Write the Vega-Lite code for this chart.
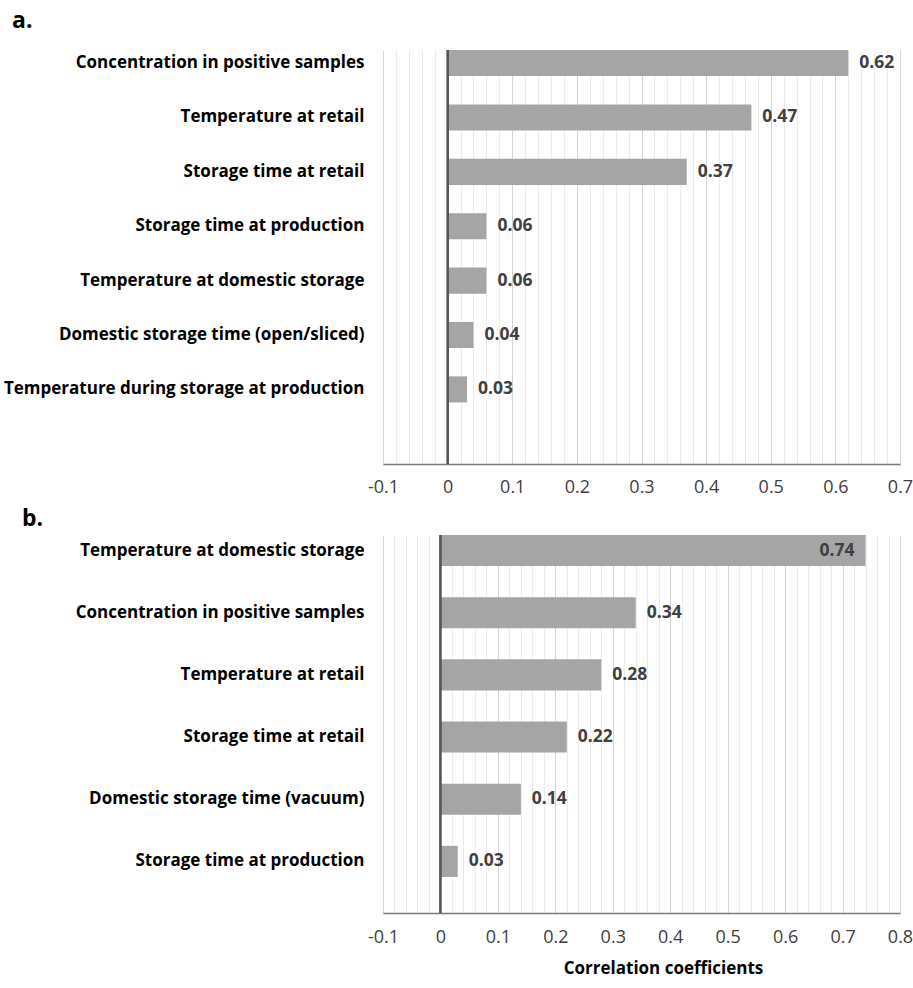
{
  "$schema": "https://vega.github.io/schema/vega-lite/v6.json",
  "padding": {"left": 3, "top": 10, "right": 4, "bottom": 0},
  "background": "white",
  "spacing": 12,
  "config": {
    "view": {"stroke": null},
    "font": "Open Sans",
    "axis": {"labelFont": "Open Sans", "titleFont": "Open Sans"}
  },
  "datasets": {
    "a": [
      {"factor": "Concentration in positive samples", "r": 0.62},
      {"factor": "Temperature at retail", "r": 0.47},
      {"factor": "Storage time at retail", "r": 0.37},
      {"factor": "Storage time at production", "r": 0.06},
      {"factor": "Temperature at domestic storage", "r": 0.06},
      {"factor": "Domestic storage time (open/sliced)", "r": 0.04},
      {"factor": "Temperature during storage at production", "r": 0.03}
    ],
    "b": [
      {"factor": "Temperature at domestic storage", "r": 0.74},
      {"factor": "Concentration in positive samples", "r": 0.34},
      {"factor": "Temperature at retail", "r": 0.28},
      {"factor": "Storage time at retail", "r": 0.22},
      {"factor": "Domestic storage time (vacuum)", "r": 0.14},
      {"factor": "Storage time at production", "r": 0.03}
    ]
  },
  "vconcat": [
    {
      "title": {"text": "a.", "anchor": "start", "frame": "group", "dx": -371, "fontSize": 23, "fontWeight": "bold", "color": "black", "offset": 16},
      "width": 517,
      "height": 414,
      "data": {"name": "a"},
      "encoding": {
        "y": {
          "field": "factor", "type": "nominal", "sort": null,
          "scale": {"paddingInner": 0.52, "paddingOuter": 0.566, "align": 0},
          "axis": {"title": null, "domain": false, "ticks": false, "grid": false, "labelFontWeight": "bold", "labelColor": "black", "labelFontSize": 17, "labelPadding": 19, "labelLimit": 0}
        },
        "x": {
          "field": "r", "type": "quantitative",
          "scale": {"domain": [-0.1, 0.7], "nice": false, "zero": false},
          "axis": {
            "title": null,
            "values": [-0.1,-0.08,-0.06,-0.04,-0.02,0,0.02,0.04,0.06,0.08,0.1,0.12,0.14,0.16,0.18,0.2,0.22,0.24,0.26,0.28,0.3,0.32,0.34,0.36,0.38,0.4,0.42,0.44,0.46,0.48,0.5,0.52,0.54,0.56,0.58,0.6,0.62,0.64,0.66,0.68,0.7],
            "labelExpr": "abs(datum.value*10 - round(datum.value*10)) < 0.001 ? toString(round(datum.value*10)/10) : ''",
            "labelOverlap": false, "labelFlush": false,
            "ticks": false, "grid": true,
            "gridColor": {"condition": {"test": "abs(datum.value*10 - round(datum.value*10)) < 0.001", "value": "#d4d4d4"}, "value": "#ebebeb"},
            "domainColor": "#7a7a7a", "domainWidth": 1.5,
            "labelFontSize": 18, "labelColor": "#404040", "labelPadding": 14
          }
        }
      },
      "layer": [
        {"mark": {"type": "bar", "color": "#a5a5a5"}},
        {"mark": {"type": "text", "align": "left", "baseline": "middle", "dx": 11, "fontSize": 17.5, "fontWeight": "bold", "color": "#404040"},
         "encoding": {"text": {"field": "r", "type": "quantitative", "format": ".2f"}}},
        {"mark": {"type": "rule", "color": "#555555", "strokeWidth": 1.5},
         "encoding": {"x": {"datum": 0}, "y": null}}
      ]
    },
    {
      "title": {"text": "b.", "anchor": "start", "frame": "group", "dx": -361, "fontSize": 23, "fontWeight": "bold", "color": "black", "offset": 3},
      "width": 517,
      "height": 378,
      "data": {"name": "b"},
      "encoding": {
        "y": {
          "field": "factor", "type": "nominal", "sort": null,
          "scale": {"paddingInner": 0.5, "paddingOuter": 0.29, "align": 0},
          "axis": {"title": null, "domain": false, "ticks": false, "grid": false, "labelFontWeight": "bold", "labelColor": "black", "labelFontSize": 17, "labelPadding": 19, "labelLimit": 0}
        },
        "x": {
          "field": "r", "type": "quantitative",
          "scale": {"domain": [-0.1, 0.8], "nice": false, "zero": false},
          "axis": {
            "title": "Correlation coefficients",
            "titleFontSize": 17, "titleFontWeight": "bold", "titleColor": "black", "titlePadding": 14, "titleX": 280,
            "values": [-0.1,-0.08,-0.06,-0.04,-0.02,0,0.02,0.04,0.06,0.08,0.1,0.12,0.14,0.16,0.18,0.2,0.22,0.24,0.26,0.28,0.3,0.32,0.34,0.36,0.38,0.4,0.42,0.44,0.46,0.48,0.5,0.52,0.54,0.56,0.58,0.6,0.62,0.64,0.66,0.68,0.7,0.72,0.74,0.76,0.78,0.8],
            "labelExpr": "abs(datum.value*10 - round(datum.value*10)) < 0.001 ? toString(round(datum.value*10)/10) : ''",
            "labelOverlap": false, "labelFlush": false,
            "ticks": false, "grid": true,
            "gridColor": {"condition": {"test": "abs(datum.value*10 - round(datum.value*10)) < 0.001", "value": "#d4d4d4"}, "value": "#ebebeb"},
            "domainColor": "#7a7a7a", "domainWidth": 1.5,
            "labelFontSize": 18, "labelColor": "#404040", "labelPadding": 15
          }
        }
      },
      "layer": [
        {"mark": {"type": "bar", "color": "#a5a5a5"}},
        {"transform": [{"filter": "datum.r < 0.7"}],
         "mark": {"type": "text", "align": "left", "baseline": "middle", "dx": 11, "fontSize": 17.5, "fontWeight": "bold", "color": "#404040"},
         "encoding": {"text": {"field": "r", "type": "quantitative", "format": ".2f"}}},
        {"transform": [{"filter": "datum.r >= 0.7"}],
         "mark": {"type": "text", "align": "right", "baseline": "middle", "dx": -11, "fontSize": 17.5, "fontWeight": "bold", "color": "#404040"},
         "encoding": {"text": {"field": "r", "type": "quantitative", "format": ".2f"}}},
        {"mark": {"type": "rule", "color": "#555555", "strokeWidth": 1.5},
         "encoding": {"x": {"datum": 0}, "y": null}}
      ]
    }
  ]
}
